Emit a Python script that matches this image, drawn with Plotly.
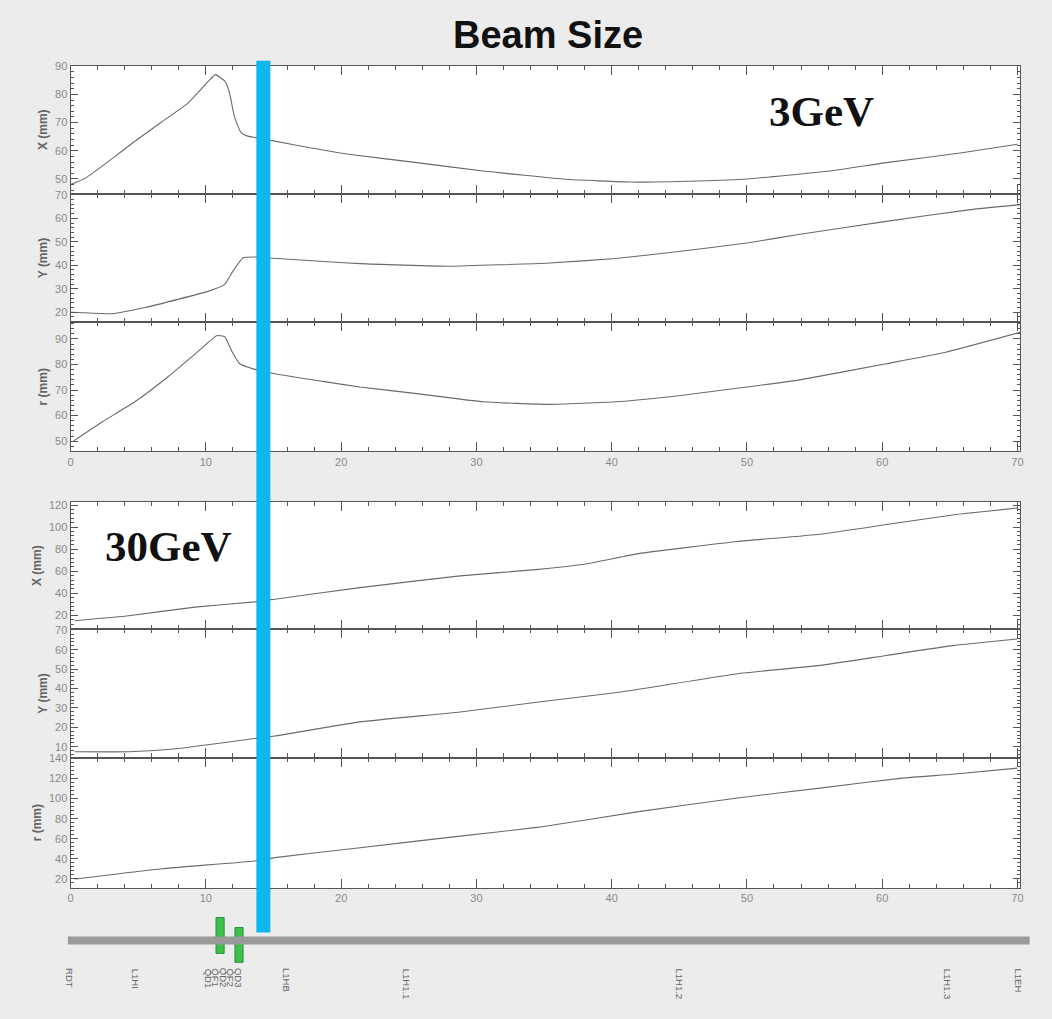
import plotly.graph_objects as go

W, H = 1052, 1019

# ---------------- data ----------------
# 3 GeV
s_3x = [0.0, 1.1, 3.1, 4.7, 6.75, 8.7, 10.2, 10.7, 11.4, 11.75, 12.1, 12.6, 13.1, 15.0, 17.8,
        20.7, 25.6, 30.5, 36.6, 41.5, 46.4, 50.0, 56.1, 60.3, 65.9, 70.0]
x_3gev = [48.0, 50.3, 57.3, 63.2, 70.3, 77.0, 84.7, 87.0, 84.7, 80.5, 72.3, 66.4, 65.2, 63.5, 61.0,
          58.7, 55.8, 52.8, 49.9, 48.9, 49.3, 50.0, 52.8, 55.8, 59.3, 62.3]

s_3y = [0.0, 0.6, 3.1, 5.5, 8.0, 10.2, 11.4, 12.0, 12.75, 13.6, 15.0, 19.0, 21.4, 28.0,
        35.4, 40.3, 45.1, 50.0, 53.7, 60.3, 66.4, 70.2]
y_3gev = [20.0, 19.9, 19.4, 22.0, 25.6, 29.0, 31.9, 37.5, 43.2, 43.5, 43.0, 41.5, 40.7, 39.6,
          41.0, 42.9, 46.0, 49.5, 53.0, 58.7, 63.6, 65.8]

s_3r = [0.2, 2.35, 4.7, 7.2, 9.2, 10.8, 11.4, 11.9, 12.5, 13.5, 15.1, 19.0, 21.4, 25.6,
        30.5, 35.4, 40.3, 45.1, 50.0, 53.7, 60.3, 64.7, 70.2]
r_3gev = [50.0, 57.6, 65.2, 75.2, 84.1, 91.3, 90.9, 85.4, 80.3, 78.3, 76.4, 73.1, 71.2, 68.6,
          65.4, 64.4, 65.4, 67.9, 71.2, 73.8, 80.3, 84.8, 92.6]

# 30 GeV
s_30x = [0.3, 4.3, 9.2, 13.6, 15.1, 21.4, 28.8, 34.6, 38.3, 42.0, 49.3, 55.4, 60.3, 65.2, 70.0]
x_30gev = [15.2, 19.7, 27.5, 32.3, 34.7, 45.2, 55.8, 61.7, 67.1, 76.0, 87.0, 93.6, 102.3, 111.0, 117.3]

s_30y = [0.3, 4.3, 8.0, 13.6, 15.1, 21.4, 28.8, 34.6, 40.7, 49.3, 55.4, 60.3, 65.2, 70.0]
y_30gev = [7.4, 7.4, 9.1, 14.2, 15.5, 22.8, 27.9, 33.0, 38.2, 47.6, 51.9, 57.0, 62.1, 65.5]

s_30r = [0.3, 6.75, 13.6, 15.1, 21.4, 28.8, 34.6, 42.0, 49.3, 55.4, 61.5, 65.2, 70.0]
r_30gev = [19.7, 30.0, 37.8, 41.1, 51.0, 62.6, 71.5, 87.0, 100.6, 110.5, 120.5, 124.3, 130.4]

# beamline
beam_line_s = [-0.22, 70.9]
magnet_s = [11.05, 12.45]
magnet_top = [2.3, 1.3]
magnet_bottom = [-1.3, -2.2]
element_s = [-0.1, 4.8, 10.2, 10.75, 11.3, 11.85, 12.4, 15.95, 24.8, 45.0, 64.8, 70.1]
element_names = ["RDT", "L1HI", "QD1", "QF1", "QD2", "QF2", "QD3", "L1HB",
                 "L1H1.1", "L1H1.2", "L1H1.3", "L1EH"]
marker_s = 14.25

# ---------------- layout helpers ----------------
def ydom(top_px, bot_px):
    return [1 - bot_px / H, 1 - top_px / H]

XD = [68 / W, 1023 / W]
XR = [0, 70.2]
AX = "#555555"
LINE = "#6a6a6a"
BG = "#ececec"

panels = [
    # (s, values, y-domain px, y-range, dtick, minor, title, show x labels)
    (s_3x, x_3gev, (60, 189), [44.7, 90.2], 10, 2, "X (mm)", False),
    (s_3y, y_3gev, (189, 318), [15.8, 70.4], 10, 2, "Y (mm)", False),
    (s_3r, r_3gev, (318, 448), [46.0, 96.6], 10, 2, "r (mm)", True),
    (s_30x, x_30gev, (499, 627), [7.4, 122.7], 20, 4, "X (mm)", False),
    (s_30y, y_30gev, (627, 756), [4.4, 70.5], 10, 2, "Y (mm)", False),
    (s_30r, r_30gev, (756, 887), [11.0, 141.0], 20, 4, "r (mm)", True),
]

fig = go.Figure()
layout = dict(
    width=W, height=H,
    margin=dict(l=0, r=0, t=0, b=0),
    paper_bgcolor=BG,
    plot_bgcolor="#ffffff",
    showlegend=False,
    font=dict(family="Liberation Sans, Arial, sans-serif", color="#777777"),
)

for i, (s, v, (tp, bp), yr, dt, mn, title, showx) in enumerate(panels, start=1):
    xa = "x" if i == 1 else f"x{i}"
    ya = "y" if i == 1 else f"y{i}"
    fig.add_trace(go.Scatter(x=s, y=v, mode="lines", xaxis=xa, yaxis=ya,
                             line=dict(color=LINE, width=1.1, shape="spline", smoothing=0.4),
                             hoverinfo="skip"))
    kx = "xaxis" if i == 1 else f"xaxis{i}"
    ky = "yaxis" if i == 1 else f"yaxis{i}"
    layout[kx] = dict(
        domain=XD, range=XR, anchor=ya, showline=True, linecolor=AX, linewidth=1.2,
        mirror="ticks", ticks="inside", ticklen=9, tickwidth=1.4, tickcolor=AX,
        tick0=0, dtick=10, showgrid=False, zeroline=False,
        minor=dict(dtick=2, ticklen=4, ticks="inside", tickcolor=AX, tickwidth=1.1, showgrid=False),
        showticklabels=showx, tickfont=dict(size=11, color="#8a8a8a"),
    )
    layout[ky] = dict(
        domain=ydom(tp, bp), range=yr, anchor=xa, showline=True, linecolor=AX, linewidth=1.2,
        mirror="ticks", ticks="inside", ticklen=7, tickwidth=1.2, tickcolor=AX,
        tick0=0, dtick=dt, showgrid=False, zeroline=False,
        minor=dict(dtick=mn, ticklen=3, ticks="inside", tickcolor=AX, tickwidth=1, showgrid=False),
        tickfont=dict(size=11, color="#8a8a8a"),
        title=dict(text=f"<b>{title}</b>", font=dict(size=12, color="#666666"), standoff=4),
    )

# beamline subplot
fig.add_trace(go.Scatter(x=beam_line_s, y=[0, 0], mode="lines", xaxis="x7", yaxis="y7",
                         line=dict(color="#9a9a9a", width=8), hoverinfo="skip"))
fig.add_trace(go.Bar(x=magnet_s, y=[t - b for t, b in zip(magnet_top, magnet_bottom)],
                     base=magnet_bottom, width=0.6, xaxis="x7", yaxis="y7",
                     marker=dict(color="#3fc04c", line=dict(color="#2b8f36", width=1)),
                     hoverinfo="skip"))
layout["xaxis7"] = dict(domain=[65 / W, 1035 / W], range=[-0.22, 71.08], anchor="y7",
                        visible=False, fixedrange=True)
layout["yaxis7"] = dict(domain=ydom(905, 975), range=[-3.5, 3.5], anchor="x7",
                        visible=False, fixedrange=True)

annotations = [
    dict(text="<b>Beam Size</b>", x=548 / W, y=1 - 29 / H, xref="paper", yref="paper",
         xanchor="center", yanchor="middle", showarrow=False,
         font=dict(size=38, color="#111111", family="Liberation Sans, Arial, sans-serif")),
    dict(text="<b>3GeV</b>", x=823 / W, y=1 - 106 / H, xref="paper", yref="paper",
         xanchor="center", yanchor="middle", showarrow=False,
         font=dict(size=43, color="#111111", family="Liberation Serif, Times New Roman, serif")),
    dict(text="<b>30GeV</b>", x=166 / W, y=1 - 544 / H, xref="paper", yref="paper",
         xanchor="center", yanchor="middle", showarrow=False,
         font=dict(size=43, color="#111111", family="Liberation Serif, Times New Roman, serif")),
]
for s, name in zip(element_s, element_names):
    annotations.append(dict(text=name, x=s, y=1 - 966 / H, xref="x7", yref="paper",
                            yanchor="top", textangle=90, showarrow=False,
                            font=dict(size=9.5, color="#666666")))
layout["annotations"] = annotations

layout["shapes"] = [
    # keep the beamline strip the same grey as the page
    dict(type="rect", xref="paper", yref="paper", x0=0, x1=1,
         y0=ydom(905, 975)[0], y1=ydom(905, 975)[1],
         fillcolor=BG, line=dict(width=0), layer="below"),
    dict(type="line", xref="x", yref="paper", x0=marker_s, x1=marker_s,
         y0=1 - 932 / H, y1=1 - 55 / H, line=dict(color="#0bb8ec", width=14), layer="above"),
]

fig.update_layout(**layout)
fig.write_html("out.html")
